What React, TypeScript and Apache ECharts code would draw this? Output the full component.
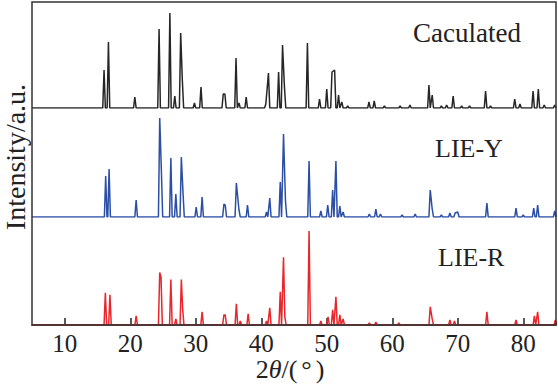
import React, { useEffect, useRef } from "react";
import * as echarts from "echarts";

// 2θ (deg), relative intensity
const caculatedPeaks: [number, number][] = [
  [16.0, 38], [16.67, 66], [20.7, 11], [24.4, 79], [26.05, 95], [26.8, 12], [27.7, 75], [27.95, 28],
  [29.8, 5], [30.8, 21], [34.2, 14], [34.45, 14], [36.15, 50], [36.6, 5], [37.7, 11], [40.7, 4],
  [41.1, 35], [42.65, 36], [43.25, 63], [43.55, 20], [47.05, 65], [48.9, 9], [50.0, 19], [50.8, 36],
  [51.2, 38], [51.8, 13], [52.3, 6], [53.2, 2], [56.45, 6], [57.25, 7], [58.8, 2], [61.2, 2],
  [62.7, 3], [65.6, 23], [66.1, 13], [67.5, 2], [68.3, 3], [69.3, 12], [70.6, 2], [71.8, 2],
  [74.25, 17], [75.0, 2], [78.7, 9], [79.5, 4], [81.5, 17], [82.3, 19], [83.2, 3], [84.8, 3],
];
const lieYPeaks: [number, number][] = [
  [16.25, 41], [16.77, 48], [20.9, 17], [24.5, 99], [24.75, 47], [26.2, 59], [26.96, 23], [27.8, 60],
  [28.05, 25], [30.07, 10], [30.97, 20], [34.3, 13], [34.5, 12], [36.2, 34], [36.6, 7], [37.9, 12],
  [40.8, 5], [41.3, 19], [42.9, 35], [43.4, 83], [43.7, 16], [47.3, 56], [49.1, 6], [50.15, 12],
  [50.9, 27], [51.4, 56], [52.0, 11], [52.5, 5], [56.5, 3], [57.5, 8], [58.2, 3], [61.5, 2],
  [63.5, 3], [65.8, 27], [66.1, 8], [67.5, 2], [68.8, 4], [69.6, 4], [70.0, 5], [74.45, 14],
  [78.9, 9], [80.0, 2], [81.6, 9], [82.2, 12], [84.8, 6],
];
const lieRPeaks: [number, number][] = [
  [16.2, 32], [16.9, 30], [20.9, 9], [24.5, 52], [24.7, 47], [26.2, 45], [26.96, 6], [27.8, 45],
  [28.0, 16], [30.97, 13], [34.3, 10], [34.5, 10], [36.2, 21], [36.8, 4], [38.0, 11], [40.8, 4],
  [41.3, 17], [42.9, 33], [43.4, 67], [43.6, 8], [47.3, 93], [49.1, 4], [50.2, 8], [50.9, 15],
  [51.4, 28], [52.0, 10], [52.5, 6], [56.5, 2], [57.5, 3], [61.0, 2], [65.8, 18], [66.1, 6],
  [68.8, 5], [69.5, 4], [74.45, 13], [78.9, 5], [81.7, 9], [82.2, 13], [84.9, 5],
];
const seriesNames = ["Caculated", "LIE-Y", "LIE-R"];
const tickValues = [10, 20, 30, 40, 50, 60, 70, 80];
const xMin = 5;
const xMax = 85;

function profile(peaks: [number, number][], w: number): [number, number][] {
  const pts: [number, number][] = [[xMin, 0]];
  const sorted = [...peaks].sort((a, b) => a[0] - b[0]);
  sorted.forEach(([x, h], i) => {
    const prev = sorted[i - 1];
    const next = sorted[i + 1];
    if (!prev || prev[0] + w < x - w) pts.push([x - w, 0]);
    pts.push([x, h]);
    if (!next || x + w < next[0] - w) pts.push([x + w, 0]);
  });
  pts.push([xMax, 0]);
  return pts;
}

const FONT = "'Liberation Serif', 'Times New Roman', serif";

export default function App() {
  const ref = useRef<HTMLDivElement>(null);
  useEffect(() => {
    document.body.style.margin = "0";
    if (!ref.current) return;
    const chart = echarts.init(ref.current, null, { renderer: "svg" });
    const grids = [
      { left: 32, right: 2, top: 2, height: 106 },
      { left: 32, right: 2, top: 109, height: 108 },
      { left: 32, right: 2, top: 217, height: 108 },
    ];
    const maxes = [106, 108, 107];
    const colors = ["#262626", "#2b4ea6", "#e8262b"];
    const data = [caculatedPeaks, lieYPeaks, lieRPeaks];
    chart.setOption({
      animation: false,
      grid: grids,
      xAxis: grids.map((_, i) => ({
        type: "value",
        gridIndex: i,
        min: xMin,
        max: xMax,
        splitLine: { show: false },
        axisLine: { show: i === 2, lineStyle: { color: "#222", width: 1.5 } },
        axisTick: {
          show: i === 2,
          inside: true,
          length: 7,
          customValues: tickValues,
          lineStyle: { color: "#222", width: 1.5 },
        },
        axisLabel: {
          show: i === 2,
          customValues: tickValues,
          fontFamily: FONT,
          fontSize: 25,
          color: "#222",
          margin: 6,
        },
      })),
      yAxis: grids.map((_, i) => ({
        type: "value",
        gridIndex: i,
        min: 0,
        max: maxes[i],
        show: false,
      })),
      series: data.map((peaks, i) => ({
        type: "line",
        name: seriesNames[i],
        xAxisIndex: i,
        yAxisIndex: i,
        data: profile(peaks, 0.2),
        showSymbol: false,
        lineStyle: { color: colors[i], width: 1.5 },
        z: 3,
      })),
      graphic: [
        {
          type: "rect",
          shape: { x: 32, y: 2, width: 524, height: 323 },
          style: { fill: "none", stroke: "#333", lineWidth: 1.5 },
          z: 10,
          silent: true,
        },
        {
          type: "text",
          x: 413,
          y: 33,
          style: { text: seriesNames[0], font: `27px ${FONT}`, fill: "#222", textVerticalAlign: "middle" },
        },
        {
          type: "text",
          x: 435,
          y: 148,
          style: { text: seriesNames[1], font: `26px ${FONT}`, fill: "#222", textVerticalAlign: "middle" },
        },
        {
          type: "text",
          x: 438,
          y: 257,
          style: { text: seriesNames[2], font: `26px ${FONT}`, fill: "#222", textVerticalAlign: "middle" },
        },
        {
          type: "text",
          x: 15,
          y: 157,
          rotation: Math.PI / 2,
          style: {
            text: "Intensity/a.u.",
            font: `28px ${FONT}`,
            fill: "#222",
            textAlign: "center",
            textVerticalAlign: "middle",
          },
        },
        {
          type: "text",
          x: 290,
          y: 369,
          style: {
            text: "{a|2}{i|θ}{a|/(}{d|°}{a|)}",
            textAlign: "center",
            textVerticalAlign: "middle",
            rich: {
              a: { fontFamily: FONT, fontSize: 26, fill: "#222" },
              i: { fontFamily: FONT, fontSize: 26, fontStyle: "italic", fill: "#222" },
              d: { fontFamily: FONT, fontSize: 26, fill: "#222", padding: [0, 4, 0, 4] },
            },
          },
        },
      ],
    });
    return () => chart.dispose();
  }, []);
  return <div ref={ref} style={{ width: 558, height: 388 }} />;
}
